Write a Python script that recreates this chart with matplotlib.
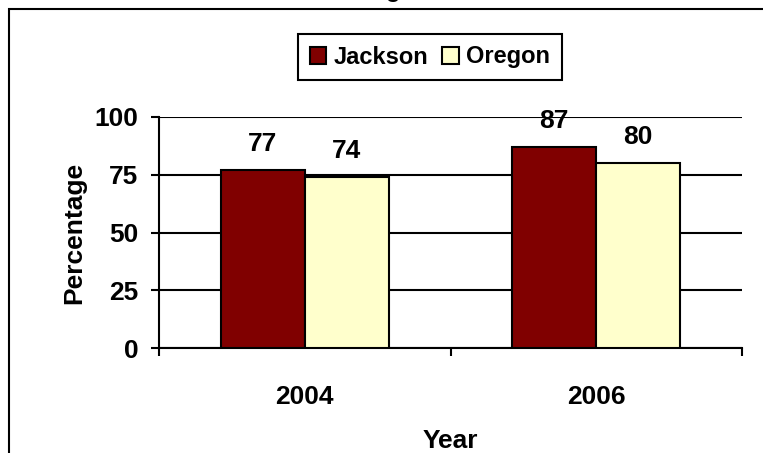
import matplotlib.pyplot as plt
import numpy as np
from matplotlib.patches import Rectangle

years = ["2004", "2006"]
series = ["Jackson", "Oregon"]
jackson = [77, 87]
oregon = [74, 80]
colors = {"Jackson": "#800000", "Oregon": "#FFFFCC"}
yticks = [0, 25, 50, 75, 100]

plt.rcParams["font.family"] = ["Liberation Sans", "DejaVu Sans"]
plt.rcParams["font.weight"] = "bold"

fig = plt.figure(figsize=(7.63, 4.53), dpi=100)
ax = fig.add_axes([159 / 763, 1 - 348 / 453, (742 - 159) / 763, (348 - 117) / 453])

width = 0.288
centers = np.arange(len(years)) + 0.5
for i, (name, vals) in enumerate(((series[0], jackson), (series[1], oregon))):
    xs = centers + (i - 0.5) * width
    bars = ax.bar(xs, vals, width=width, color=colors[name], edgecolor="black",
                  linewidth=1.5, label=name, zorder=3)
    for b, v in zip(bars, vals):
        ax.annotate(str(v), (b.get_x() + b.get_width() / 2, v), xytext=(0, 10),
                    textcoords="offset points", ha="center", va="bottom",
                    fontsize=19, fontweight="bold")

ax.set_xlim(0, len(years))
ax.set_ylim(0, 100)
ax.set_yticks(yticks)
ax.set_yticklabels([str(t) for t in yticks], fontsize=19, fontweight="bold")
ax.set_xticks(np.arange(len(years) + 1))
ax.set_xticklabels([])
ax.set_xticks(centers, minor=True)
ax.set_xticklabels(years, minor=True, fontsize=19, fontweight="bold")
ax.tick_params(axis="x", which="minor", length=0, pad=27)
ax.tick_params(axis="both", which="major", length=6, width=1.5, color="black")
ax.tick_params(axis="y", pad=9)
ax.yaxis.grid(True, color="black", linewidth=1.5, zorder=0)
ax.set_axisbelow(True)
for s in ("top", "right"):
    ax.spines[s].set_visible(False)
for s in ("left", "bottom"):
    ax.spines[s].set_linewidth(1.5)

ax.set_ylabel("Percentage", fontsize=19, fontweight="bold", labelpad=6)
ax.set_xlabel("Year", fontsize=19, fontweight="bold", labelpad=14)

leg = ax.legend(loc="center", bbox_to_anchor=(430 / 763, 1 - 57 / 453),
                bbox_transform=fig.transFigure, ncol=2, fancybox=False,
                framealpha=1, edgecolor="black", handlelength=0.7, handleheight=0.7,
                handletextpad=0.3, columnspacing=0.6, borderpad=0.5,
                prop={"family": ["Liberation Sans Narrow", "Liberation Sans"],
                      "weight": "bold", "size": 17})
leg.get_frame().set_linewidth(1.5)

fig.patches.append(Rectangle((9 / 763, -0.2), 1.3, 1.2 - 9 / 453, transform=fig.transFigure,
                             fill=False, edgecolor="black", linewidth=1.5))
fig.text(393 / 763, 1.006, "g", ha="center", va="baseline", fontsize=17)

fig.savefig("out.png", dpi=100)
